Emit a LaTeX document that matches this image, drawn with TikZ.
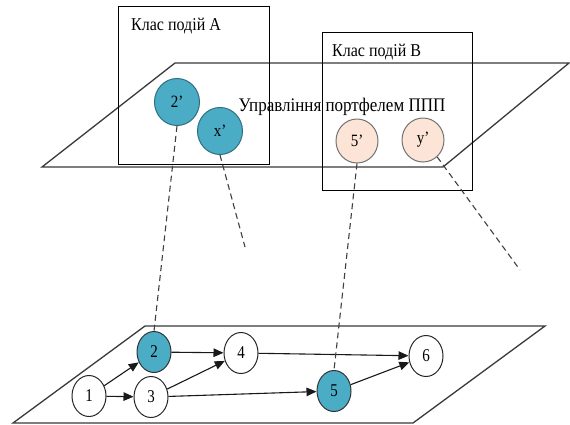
\documentclass[tikz,border=0pt]{standalone}
\usepackage{fontspec}
\usepackage{graphicx}
\setmainfont{Liberation Serif}
\usetikzlibrary{arrows.meta,shapes.geometric}
\definecolor{evblue}{HTML}{4BACC6}
\definecolor{evblueline}{HTML}{2F6E80}
\definecolor{evpeach}{HTML}{FCE4D6}
\definecolor{planeline}{HTML}{3A3A3A}
% text set a little taller than wide
\newcommand\tallt[2][1.13]{\scalebox{1}[#1]{#2}}
\begin{document}
\begin{tikzpicture}[x=1pt,y=-1pt,
  plane/.style={draw=planeline, line width=1.3pt, line join=miter},
  classbox/.style={draw=black, line width=1pt},
  boxlabel/.style={anchor=west, inner sep=0pt, font=\fontsize{16}{18}\selectfont},
  planelabel/.style={inner sep=0pt, font=\fontsize{17}{19}\selectfont},
  evA/.style={ellipse, draw=evblueline, line width=1pt, fill=evblue, inner sep=0pt,
    minimum width=45pt, minimum height=47pt, font=\fontsize{15}{17}\selectfont},
  evB/.style={ellipse, draw=black!55, line width=1pt, fill=evpeach, inner sep=0pt,
    minimum width=42pt, minimum height=44pt, font=\fontsize{15}{17}\selectfont},
  gnode/.style={ellipse, draw=black!85, line width=1pt, fill=white, inner sep=0pt,
    minimum width=34pt, minimum height=41pt, font=\fontsize{15}{17}\selectfont},
  gnodeA/.style={gnode, fill=evblue, draw=black!80},
  proj/.style={draw=black!75, line width=1.1pt, dash pattern=on 6pt off 4pt},
  arc/.style={draw=black!90, line width=1.1pt, -{Triangle[length=10pt,width=8.5pt]}}]
\useasboundingbox (0,0) rectangle (570,424);
\fill[white] (0,0) rectangle (570,424);

% upper plane: the management level
\draw[plane] (42,167) -- (175,63) -- (569,63) -- (443,167) -- cycle;

% event classes
\draw[classbox] (118,6) rectangle (269,164);
\draw[classbox] (322,32) rectangle (472,190);
\node[boxlabel] (la) at (131,26) {\tallt{Клас подій А}};
\node[boxlabel] (lb) at (332,52) {\tallt{Клас подій В}};
\node[planelabel] (lp) at (342,107) {\tallt{Управління портфелем ППП}};

% events of the upper level
\node[evA] (p2) at (177,102) {\tallt[1.15]{2'}};
\node[evA] (px) at (220,131) {\tallt[1.15]{x'}};
\node[evB] (p5) at (357,141) {\tallt[1.15]{5'}};
\node[evB] (py) at (423,140) {\tallt[1.15]{y'}};

% lower plane: the network of works
\draw[plane] (13,423) -- (413,423) -- (545,326) -- (145,326) -- cycle;

\node[gnode]  (n1) at (89,396)  {\tallt[1.2]{1}};
\node[gnodeA] (n2) at (154,352) {\tallt[1.2]{2}};
\node[gnode]  (n3) at (151,397) {\tallt[1.2]{3}};
\node[gnode]  (n4) at (241,353) {\tallt[1.2]{4}};
\node[gnodeA] (n5) at (334,391) {\tallt[1.2]{5}};
\node[gnode]  (n6) at (426,356) {\tallt[1.2]{6}};

\draw[arc] (n1) -- (n2);
\draw[arc] (n1) -- (n3);
\draw[arc] (n2) -- (n4);
\draw[arc] (n3) -- (n4);
\draw[arc] (n3) -- (n5);
\draw[arc] (n4) -- (n6);
\draw[arc] (n5) -- (n6);

% projections between the levels
\coordinate (xend) at (245,247);
\coordinate (yend) at (520,270);
\draw[proj] (p2.south) -- (n2.north);
\draw[proj] (px.south) -- (xend);
\draw[proj] (p5.south) -- (n5.north);
\draw[proj] (py.-50) -- (yend);
\end{tikzpicture}
\end{document}
